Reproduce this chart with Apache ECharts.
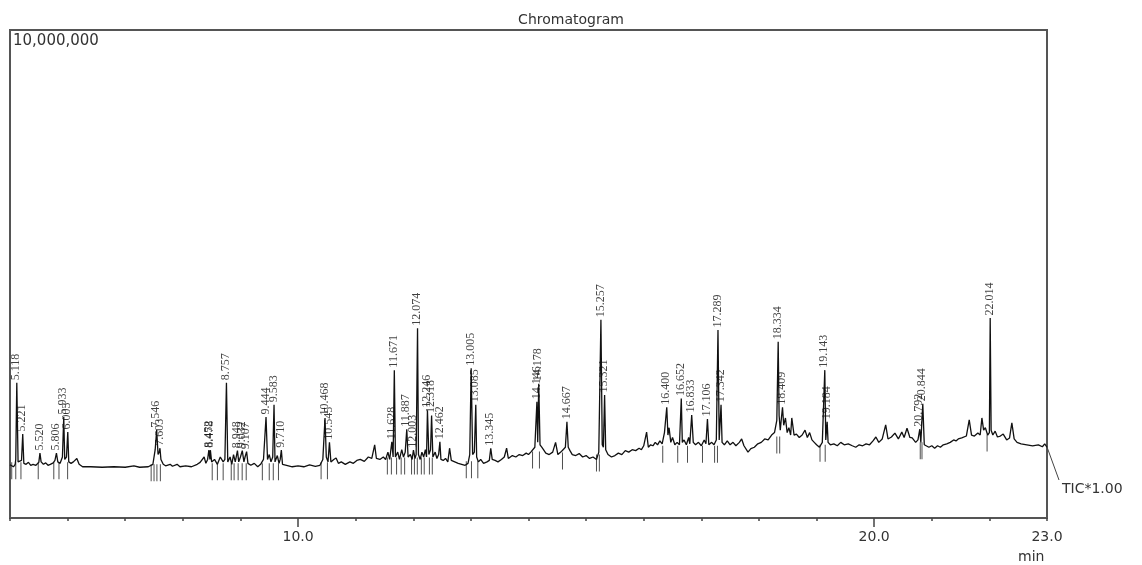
<!DOCTYPE html>
<html>
<head>
<meta charset="utf-8">
<script src="https://cdn.jsdelivr.net/npm/echarts@6/dist/echarts.min.js"></script>
<style>
  html, body { margin: 0; padding: 0; background: #fff; }
  #chromatogram { width: 1142px; height: 565px; }
</style>
</head>
<body>
<div id="chromatogram"></div>
<script>
// retention time (min), intensity in millions of counts
var trace = [
  [5.00,1.09],[5.03,1.12],[5.06,1.05],[5.09,1.10],[5.10,1.20],[5.118,2.77],[5.14,1.15],[5.17,1.12],[5.20,1.18],[5.221,1.72],
  [5.24,1.12],[5.28,1.10],[5.32,1.14],[5.36,1.08],[5.40,1.10],[5.45,1.08],[5.50,1.14],[5.520,1.33],[5.54,1.15],[5.58,1.10],
  [5.62,1.13],[5.66,1.08],[5.70,1.10],[5.75,1.13],[5.78,1.18],[5.806,1.33],[5.83,1.15],[5.87,1.12],[5.91,1.25],[5.933,2.07],
  [5.95,1.20],[5.98,1.25],[6.003,1.76],[6.02,1.15],[6.06,1.12],[6.10,1.15],[6.16,1.22],[6.20,1.10],[6.26,1.05],[6.40,1.05],
  [6.60,1.04],[6.80,1.05],[7.00,1.04],[7.15,1.07],[7.25,1.04],[7.40,1.05],[7.48,1.10],[7.52,1.40],[7.546,1.80],[7.57,1.30],
  [7.59,1.35],[7.603,1.43],[7.62,1.20],[7.66,1.10],[7.70,1.07],[7.78,1.10],[7.82,1.06],[7.90,1.10],[7.95,1.05],[8.05,1.07],
  [8.15,1.05],[8.25,1.10],[8.30,1.14],[8.37,1.25],[8.40,1.12],[8.43,1.20],[8.452,1.39],[8.47,1.20],[8.478,1.39],[8.50,1.15],
  [8.55,1.20],[8.60,1.10],[8.65,1.25],[8.70,1.15],[8.73,1.20],[8.757,2.77],[8.78,1.15],[8.82,1.25],[8.85,1.10],[8.88,1.30],
  [8.91,1.15],[8.948,1.38],[8.97,1.15],[9.00,1.25],[9.032,1.38],[9.06,1.15],[9.08,1.25],[9.107,1.36],[9.13,1.12],[9.18,1.08],
  [9.24,1.12],[9.30,1.05],[9.35,1.10],[9.40,1.20],[9.444,2.07],[9.47,1.20],[9.50,1.30],[9.53,1.15],[9.56,1.25],[9.583,2.32],
  [9.60,1.15],[9.64,1.28],[9.67,1.12],[9.69,1.20],[9.710,1.39],[9.73,1.10],[9.80,1.08],[9.90,1.05],[10.00,1.07],[10.10,1.05],
  [10.20,1.09],[10.30,1.06],[10.38,1.08],[10.43,1.20],[10.468,2.05],[10.49,1.25],[10.52,1.15],[10.545,1.55],[10.57,1.15],[10.62,1.20],
  [10.66,1.23],[10.70,1.12],[10.75,1.15],[10.82,1.10],[10.90,1.15],[10.96,1.12],[11.02,1.18],[11.08,1.20],[11.15,1.16],[11.22,1.25],
  [11.28,1.22],[11.33,1.50],[11.36,1.22],[11.42,1.20],[11.48,1.25],[11.52,1.20],[11.56,1.35],[11.59,1.20],[11.628,1.56],[11.65,1.25],
  [11.671,3.03],[11.69,1.25],[11.73,1.35],[11.76,1.20],[11.80,1.40],[11.83,1.25],[11.86,1.35],[11.887,1.82],[11.91,1.25],[11.95,1.30],
  [11.98,1.20],[12.003,1.39],[12.03,1.22],[12.05,1.30],[12.074,3.89],[12.09,1.30],[12.12,1.20],[12.15,1.35],[12.18,1.25],[12.21,1.40],
  [12.23,1.25],[12.246,2.21],[12.27,1.30],[12.30,1.40],[12.318,2.10],[12.34,1.25],[12.38,1.35],[12.41,1.22],[12.44,1.30],[12.462,1.56],
  [12.48,1.20],[12.52,1.18],[12.56,1.22],[12.60,1.15],[12.63,1.43],[12.66,1.18],[12.72,1.15],[12.78,1.12],[12.84,1.10],[12.90,1.08],
  [12.95,1.12],[12.98,1.30],[13.005,3.07],[13.03,1.30],[13.06,1.35],[13.085,2.32],[13.10,1.25],[13.13,1.15],[13.17,1.20],[13.22,1.12],
  [13.28,1.15],[13.32,1.18],[13.345,1.43],[13.37,1.20],[13.42,1.18],[13.47,1.15],[13.53,1.20],[13.58,1.25],[13.62,1.43],[13.65,1.22],
  [13.72,1.28],[13.78,1.25],[13.84,1.30],[13.90,1.28],[13.96,1.33],[14.00,1.30],[14.04,1.35],[14.07,1.32],[14.11,1.45],[14.146,2.38],
  [14.16,1.55],[14.178,2.75],[14.20,1.50],[14.23,1.45],[14.26,1.40],[14.30,1.33],[14.36,1.30],[14.42,1.35],[14.47,1.55],[14.51,1.30],
  [14.56,1.35],[14.60,1.40],[14.64,1.45],[14.667,1.97],[14.69,1.45],[14.72,1.38],[14.76,1.30],[14.82,1.28],[14.88,1.32],[14.94,1.25],
  [15.00,1.28],[15.06,1.22],[15.12,1.25],[15.18,1.20],[15.22,1.35],[15.257,4.06],[15.28,1.50],[15.30,1.45],[15.321,2.52],[15.34,1.40],
  [15.38,1.30],[15.44,1.25],[15.50,1.28],[15.56,1.33],[15.62,1.30],[15.68,1.38],[15.74,1.35],[15.80,1.40],[15.86,1.38],[15.92,1.43],
  [15.96,1.40],[16.00,1.48],[16.05,1.76],[16.08,1.45],[16.12,1.50],[16.16,1.48],[16.20,1.55],[16.24,1.50],[16.28,1.58],[16.32,1.52],
  [16.36,1.75],[16.400,2.27],[16.42,1.70],[16.44,1.85],[16.47,1.55],[16.50,1.65],[16.54,1.50],[16.58,1.55],[16.62,1.50],[16.652,2.45],
  [16.67,1.55],[16.70,1.60],[16.74,1.50],[16.78,1.65],[16.80,1.52],[16.833,2.11],[16.86,1.55],[16.90,1.50],[16.95,1.55],[17.00,1.48],
  [17.05,1.60],[17.08,1.52],[17.106,2.03],[17.13,1.50],[17.18,1.55],[17.22,1.50],[17.26,1.60],[17.289,3.85],[17.31,1.60],[17.342,2.32],
  [17.36,1.55],[17.40,1.50],[17.45,1.58],[17.50,1.50],[17.55,1.55],[17.60,1.48],[17.66,1.55],[17.70,1.62],[17.74,1.48],[17.81,1.35],
  [17.86,1.42],[17.92,1.45],[17.98,1.52],[18.04,1.55],[18.10,1.62],[18.16,1.60],[18.22,1.70],[18.27,1.75],[18.31,2.00],[18.334,3.61],
  [18.35,2.10],[18.37,1.80],[18.39,2.05],[18.409,2.27],[18.43,1.90],[18.46,2.05],[18.49,1.75],[18.52,1.85],[18.55,1.70],[18.57,2.05],
  [18.61,1.70],[18.65,1.72],[18.70,1.65],[18.75,1.70],[18.80,1.80],[18.84,1.65],[18.88,1.75],[18.92,1.60],[18.96,1.55],[19.00,1.50],
  [19.05,1.45],[19.10,1.55],[19.143,3.03],[19.16,1.60],[19.184,1.97],[19.20,1.55],[19.24,1.50],[19.30,1.52],[19.36,1.48],[19.42,1.55],
  [19.48,1.50],[19.55,1.52],[19.62,1.48],[19.68,1.45],[19.74,1.50],[19.80,1.48],[19.86,1.52],[19.92,1.50],[19.98,1.58],[20.03,1.66],
  [20.08,1.55],[20.14,1.62],[20.20,1.91],[20.24,1.62],[20.30,1.66],[20.36,1.74],[20.42,1.62],[20.48,1.76],[20.52,1.65],[20.57,1.84],
  [20.62,1.65],[20.66,1.64],[20.72,1.55],[20.76,1.60],[20.792,1.82],[20.81,1.55],[20.844,2.34],[20.87,1.50],[20.90,1.48],[20.95,1.45],
  [21.00,1.48],[21.05,1.43],[21.10,1.48],[21.15,1.45],[21.20,1.50],[21.26,1.52],[21.32,1.55],[21.38,1.60],[21.42,1.58],[21.46,1.62],
  [21.52,1.64],[21.60,1.68],[21.65,2.01],[21.69,1.70],[21.74,1.68],[21.80,1.74],[21.84,1.70],[21.87,2.05],[21.90,1.80],[21.93,1.85],
  [21.97,1.70],[22.00,1.75],[22.014,4.10],[22.03,1.80],[22.06,1.70],[22.10,1.78],[22.14,1.66],[22.19,1.68],[22.24,1.72],[22.30,1.60],
  [22.35,1.64],[22.39,1.95],[22.43,1.62],[22.48,1.55],[22.55,1.52],[22.65,1.50],[22.75,1.48],[22.85,1.50],[22.92,1.46],[22.96,1.52],
  [23.00,1.45]
];

// labelled peaks (retention times)
var peakTimes = [
  5.118, 5.221, 5.520, 5.806, 5.933, 6.003, 7.546, 7.603, 8.452, 8.478, 8.757, 8.948, 9.032, 9.107,
  9.444, 9.583, 9.710, 10.468, 10.545, 11.628, 11.671, 11.887, 12.003, 12.074, 12.246, 12.318, 12.462,
  13.005, 13.085, 13.345, 14.146, 14.178, 14.667, 15.257, 15.321, 16.400, 16.652, 16.833, 17.106,
  17.289, 17.342, 18.334, 18.409, 19.143, 19.184, 20.792, 20.844, 22.014
];

// integration start/end marks
var markTimes = [
  5.03, 5.10, 5.19, 5.49, 5.76, 5.85, 6.00, 7.45, 7.50, 7.55, 7.61,
  8.51, 8.60, 8.70, 8.84, 8.89, 8.96, 9.03, 9.10, 9.38, 9.50, 9.57, 9.66, 10.40, 10.51,
  11.55, 11.62, 11.71, 11.79, 11.85, 11.97, 12.02, 12.07, 12.14, 12.19, 12.28, 12.33,
  12.92, 13.01, 13.12, 14.07, 14.19, 14.59, 15.18, 15.23,
  16.33, 16.59, 16.76, 17.02, 17.23, 17.28, 18.31, 18.36, 19.06, 19.15, 20.80, 20.83, 21.96
];
var markLevels = [
  1.09, 1.09, 1.09, 1.09, 1.09, 1.09, 1.09, 1.05, 1.05, 1.05, 1.05,
  1.07, 1.07, 1.07, 1.07, 1.07, 1.07, 1.07, 1.07, 1.07, 1.07, 1.07, 1.07, 1.09, 1.09,
  1.19, 1.19, 1.19, 1.19, 1.19, 1.19, 1.19, 1.19, 1.19, 1.19, 1.19, 1.19,
  1.11, 1.11, 1.11, 1.31, 1.31, 1.29, 1.25, 1.25,
  1.43, 1.43, 1.43, 1.43, 1.43, 1.43, 1.62, 1.62, 1.45, 1.45, 1.50, 1.50, 1.66
];

var xLabels = [10, 20, 23];
var majorTicks = [10, 20];

function init_chromatogram() {
  var chart = echarts.init(document.getElementById('chromatogram'));

  // peak tops come straight from the trace
  var peaks = peakTimes.map(function (t) {
    for (var i = 0; i < trace.length; i++) {
      if (trace[i][0] === t) { return [t, trace[i][1]]; }
    }
    return [t, 0];
  });
  var marks = markTimes.map(function (t, i) { return [t, markLevels[i]]; });

  var sans = 'DejaVu Sans, Verdana, sans-serif';

  chart.setOption({
    animation: false,
    title: {
      text: 'Chromatogram',
      left: 'center',
      top: 8,
      textStyle: { fontSize: 14, fontWeight: 'normal', color: '#333', fontFamily: sans }
    },
    grid: {
      left: 10, right: 95, top: 30, bottom: 47,
      show: true, borderColor: '#555', borderWidth: 2
    },
    xAxis: [{
      type: 'value', min: 5, max: 23, interval: 1,
      position: 'bottom',
      axisLine: { lineStyle: { color: '#555', width: 2 } },
      axisTick: { length: 3, lineStyle: { color: '#444', width: 1.5 } },
      axisLabel: {
        customValues: xLabels,
        margin: 12,
        color: '#333', fontSize: 14, fontFamily: sans,
        formatter: function (v) { return v.toFixed(1); }
      },
      splitLine: { show: false }
    }, {
      type: 'value', min: 5, max: 23,
      position: 'bottom',
      axisLine: { show: false },
      axisTick: { customValues: majorTicks, length: 9, lineStyle: { color: '#444', width: 1.5 } },
      axisLabel: { show: false },
      splitLine: { show: false }
    }],
    yAxis: {
      type: 'value', min: 0, max: 10,
      axisLine: { show: false }, axisTick: { show: false },
      axisLabel: { show: false }, splitLine: { show: false }
    },
    graphic: [
      { type: 'text', left: 13, top: 34, style: { text: '10,000,000', font: '15px ' + sans, fill: '#333' } },
      { type: 'line', shape: { x1: 1047, y1: 447, x2: 1059, y2: 480 }, style: { stroke: '#444', lineWidth: 1 } },
      { type: 'text', left: 1062, top: 482, style: { text: 'TIC*1.00', font: '14px ' + sans, fill: '#333' } },
      { type: 'text', left: 1018, top: 550, style: { text: 'min', font: '14px ' + sans, fill: '#333' } }
    ],
    series: [{
      type: 'line',
      data: trace,
      showSymbol: false,
      symbol: 'none',
      lineStyle: { color: '#111', width: 1.3 },
      z: 3
    }, {
      type: 'scatter',
      data: marks,
      symbol: 'rect',
      symbolSize: [1, 17],
      symbolOffset: [0, 6],
      itemStyle: { color: '#222' },
      z: 2
    }, {
      type: 'scatter',
      data: peaks,
      symbolSize: 1,
      itemStyle: { color: 'rgba(0,0,0,0)' },
      label: {
        show: true,
        position: [0, -2],
        rotate: 90,
        align: 'left',
        verticalAlign: 'middle',
        fontFamily: 'Liberation Serif, Times New Roman, serif',
        fontSize: 12,
        color: '#111',
        formatter: function (p) { return p.value[0].toFixed(3); }
      },
      z: 4
    }]
  });
}

init_chromatogram();
</script>
</body>
</html>
